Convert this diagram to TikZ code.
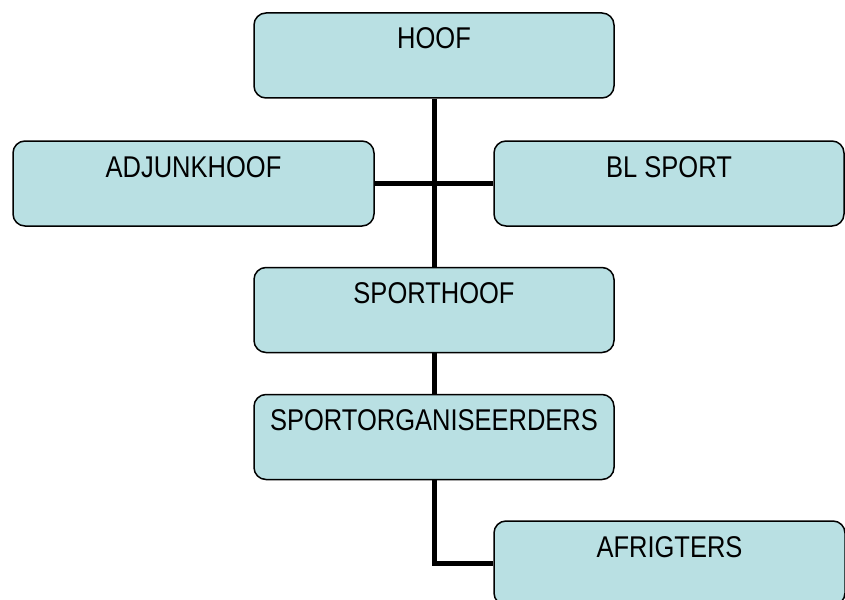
\documentclass[tikz,border=0pt]{standalone}
\usepackage{fontspec}
\setmainfont{Liberation Sans}[FakeStretch=0.85]
\definecolor{boxfill}{RGB}{185,224,227}
\begin{document}
\begin{tikzpicture}[x=1pt,y=-1pt,
  orgbox/.style={draw=black, line width=1.5pt, fill=boxfill, rounded corners=12pt,
    minimum height=85pt, inner sep=0pt, text height=36pt, text depth=49pt,
    font=\fontsize{30}{36}\selectfont},
  link/.style={line width=5pt, draw=black}]
\useasboundingbox (0,0) rectangle (845,599);
\clip (0,0) rectangle (845,599);
\node[orgbox, minimum width=360pt] (hoof) at (434,55.5) {HOOF};
\node[orgbox, minimum width=361pt] (adj) at (193.5,183.5) {ADJUNKHOOF};
\node[orgbox, minimum width=350pt] (bl) at (669,183.5) {BL SPORT};
\node[orgbox, minimum width=360pt] (sh) at (434,310) {SPORTHOOF};
\node[orgbox, minimum width=360pt] (so) at (434,437) {SPORTORGANISEERDERS};
\node[orgbox, minimum width=351pt, minimum height=84pt, text depth=48pt] (afr) at (669.5,563) {AFRIGTERS};
\draw[link] (hoof.south) -- (sh.north);
\draw[link] (adj.east) -- (bl.west);
\draw[link] (sh.south) -- (so.north);
\draw[link] (so.south) |- (afr.west);
\end{tikzpicture}
\end{document}
